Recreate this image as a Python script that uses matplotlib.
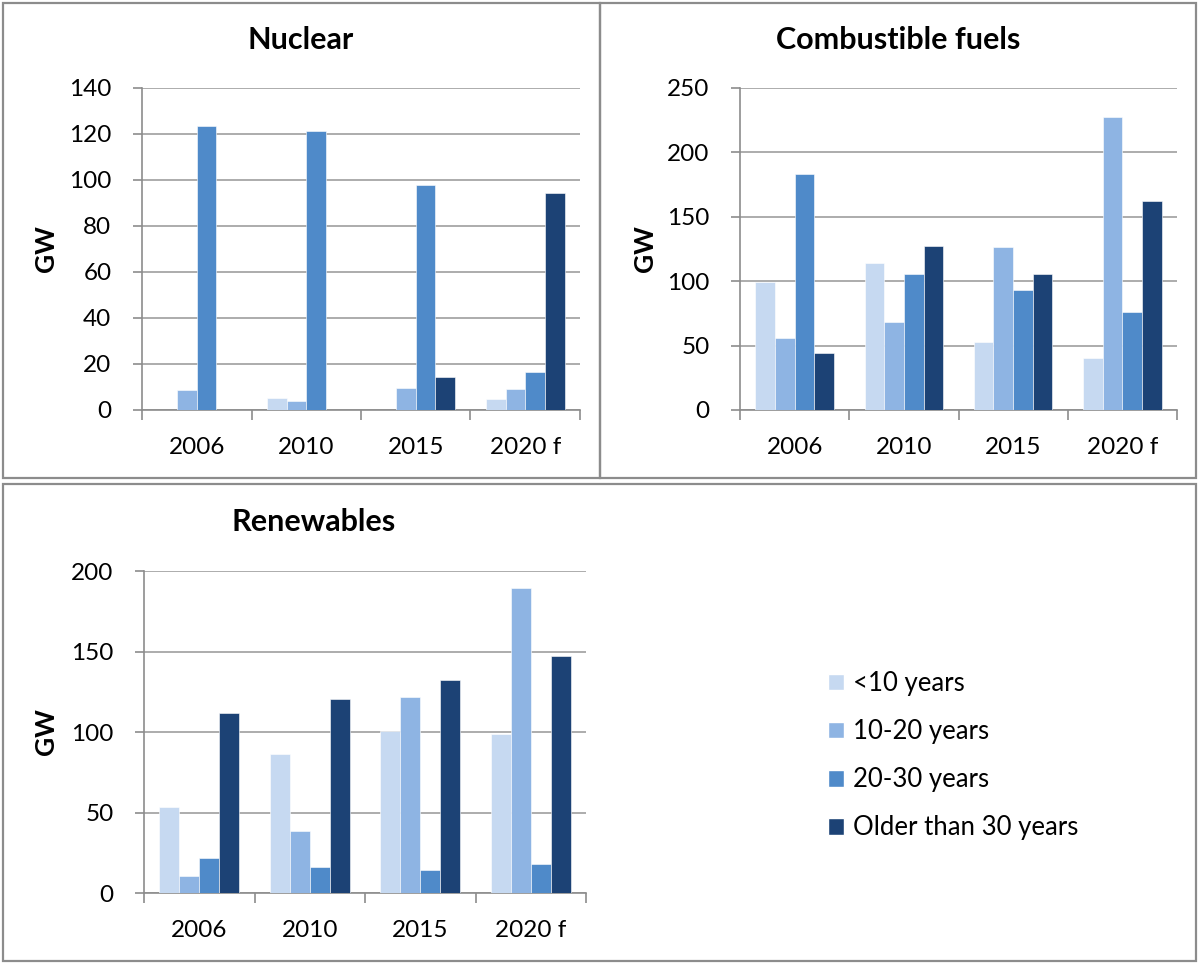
import matplotlib
matplotlib.use("Agg")
import matplotlib.pyplot as plt
import numpy as np
from matplotlib.patches import Rectangle, Patch

plt.rcParams['font.family'] = ['Lato', 'DejaVu Sans']

categories = ["2006", "2010", "2015", "2020 f"]
series = ["<10 years", "10-20 years", "20-30 years", "Older than 30 years"]
colors = ["#C6D9F1", "#8EB4E3", "#4F8AC9", "#1C4275"]

nuclear = {
    "<10 years": [0, 5.1, 0, 4.8],
    "10-20 years": [8.7, 3.9, 9.4, 9.0],
    "20-30 years": [123.4, 121.5, 98.0, 16.4],
    "Older than 30 years": [0, 0, 14.2, 94.5],
}
combustible = {
    "<10 years": [99.0, 114.2, 52.8, 40.4],
    "10-20 years": [55.7, 68.1, 126.9, 227.2],
    "20-30 years": [183.2, 105.4, 93.5, 75.9],
    "Older than 30 years": [44.6, 127.7, 105.4, 162.4],
}
renewables = {
    "<10 years": [53.3, 86.4, 100.8, 98.8],
    "10-20 years": [10.3, 38.8, 121.5, 189.5],
    "20-30 years": [21.5, 16.1, 14.3, 18.2],
    "Older than 30 years": [112.0, 120.2, 132.0, 147.1],
}

W, H = 1198, 963
fig = plt.figure(figsize=(W / 100, H / 100), dpi=100)

TICK_FS = 17.5

def px_axes(l, t, r, b):
    return fig.add_axes([l / W, (H - b) / H, (r - l) / W, (b - t) / H])

def border(l, t, r, b):
    fig.patches.append(Rectangle((l / W, (H - b) / H), (r - l) / W, (b - t) / H,
                                 transform=fig.transFigure, fill=False,
                                 edgecolor="#8C8C8C", linewidth=1.6))

border(3, 3, 600, 478)
border(600, 3, 1196, 478)
border(3, 484, 1196, 961)

grid_c = "#A6A6A6"

def panel(rect, data, ymax, step, title, title_xy, ylab_x):
    ax = px_axes(*rect)
    x = np.arange(len(categories))
    bw = 0.18
    for i, s in enumerate(series):
        ax.bar(x + (i - 1.5) * bw, data[s], width=bw, color=colors[i],
               edgecolor="white", linewidth=0.4, zorder=3)
    ax.set_xlim(-0.5, len(categories) - 0.5)
    ax.set_ylim(0, ymax)
    ax.set_yticks(np.arange(0, ymax + 1, step))
    ax.yaxis.grid(True, color=grid_c, linewidth=1.3, zorder=0)
    ax.set_axisbelow(True)
    ax.set_xticks(x)
    ax.set_xticklabels(categories)
    ax.set_xticks(np.arange(-0.5, len(categories), 1.0), minor=True)
    ax.tick_params(axis="x", which="major", length=0, pad=19.5, labelsize=TICK_FS)
    ax.tick_params(axis="x", which="minor", length=7, color="#8C8C8C", width=1.2)
    ax.tick_params(axis="y", length=6.5, color="#8C8C8C", width=1.2, labelsize=TICK_FS, pad=15.5)
    for sp in ["top", "right"]:
        ax.spines[sp].set_visible(False)
    for sp in ["left", "bottom"]:
        ax.spines[sp].set_color("#8C8C8C")
        ax.spines[sp].set_linewidth(1.2)
    fig.text(title_xy[0] / W, 1 - title_xy[1] / H, title, ha="center", va="center",
             fontsize=22, fontweight="bold")
    l, t, r, b = rect
    fig.text(ylab_x / W, 1 - ((t + b) / 2) / H, "GW", rotation=90, ha="center",
             va="center", fontsize=19, fontweight="bold")
    return ax

panel((142, 88, 580, 410), nuclear, 140, 20, "Nuclear", (301, 40), 46)
panel((740, 88, 1177, 410), combustible, 250, 50, "Combustible fuels", (898, 40), 645)
panel((144, 571, 586, 893), renewables, 200, 50, "Renewables", (314, 522), 46)

handles = [Patch(facecolor=c, edgecolor="white") for c in colors]
fig.legend(handles, series, loc="upper left", bbox_to_anchor=(828 / W, 1 - 671 / H),
           frameon=False, fontsize=18.5, handlelength=0.62, handleheight=0.62,
           handletextpad=0.35, labelspacing=0.9, borderpad=0, borderaxespad=0)

fig.savefig("out.png", dpi=100)
